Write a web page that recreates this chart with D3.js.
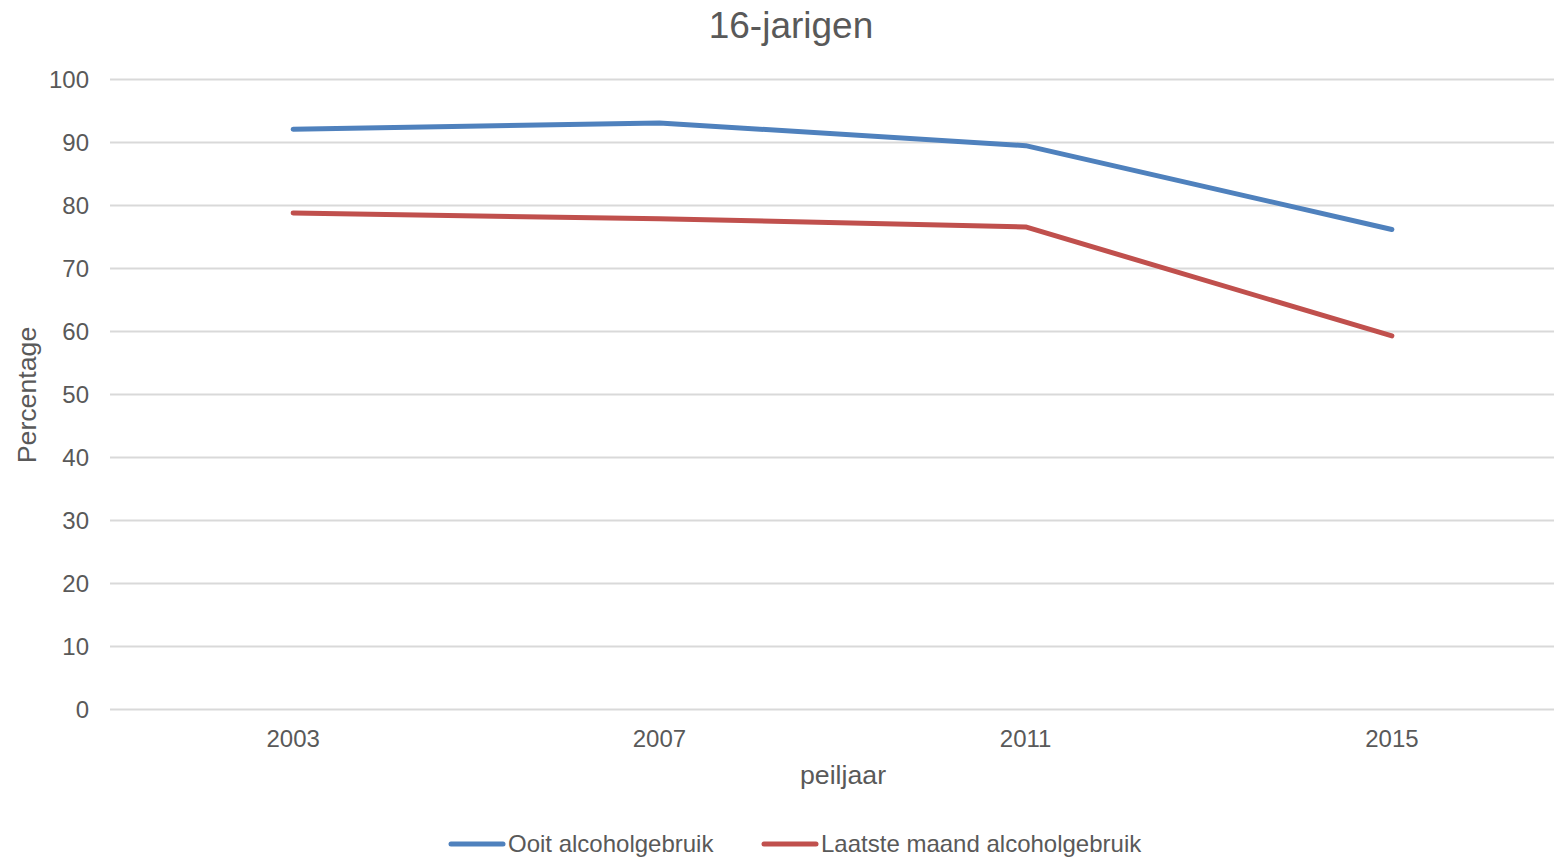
<!DOCTYPE html>
<html>
<head>
<meta charset="utf-8">
<script src="https://cdn.jsdelivr.net/npm/d3@7"></script>
<style>
  html, body { margin: 0; padding: 0; background: #fff; overflow: hidden; }
  svg { display: block; font-family: "Liberation Sans", Arial, sans-serif; }
</style>
</head>
<body>
<svg id="chart" width="1554" height="859"></svg>
<script>
const categories = ["2003", "2007", "2011", "2015"];
const seriesNames = ["Ooit alcoholgebruik", "Laatste maand alcoholgebruik"];
const ooitValues = [92.1, 93.1, 89.5, 76.2];
const laatsteValues = [78.8, 77.9, 76.6, 59.3];
const yTicks = [0, 10, 20, 30, 40, 50, 60, 70, 80, 90, 100];
const colors = ["#4F81BD", "#C0504D"];

const svg = d3.select("#chart");
const plotLeft = 110, plotRight = 1575, plotTop = 79.5, plotBottom = 709.5;
const textColor = "#595959";

const x = d3.scaleBand().domain(categories).range([plotLeft, plotRight]);
const y = d3.scaleLinear().domain([0, 100]).range([plotBottom, plotTop]);

// Title
svg.append("text").attr("x", 791).attr("y", 38).attr("text-anchor", "middle")
  .attr("font-size", 37).attr("fill", textColor).text("16-jarigen");

// Gridlines
svg.append("g").selectAll("line").data(yTicks).join("line")
  .attr("x1", plotLeft).attr("x2", plotRight)
  .attr("y1", d => y(d)).attr("y2", d => y(d))
  .attr("stroke", "#d9d9d9").attr("stroke-width", 2);

// Y axis labels
const yAxis = d3.axisLeft(y).tickValues(yTicks).tickSize(0).tickPadding(21);
const gy = svg.append("g").attr("transform", `translate(${plotLeft},0)`).call(yAxis);
gy.select(".domain").remove();
gy.selectAll("text").attr("font-size", 24).attr("fill", textColor)
  .attr("font-family", "Liberation Sans, Arial, sans-serif");

// X axis labels
const xAxis = d3.axisBottom(x).tickSize(0).tickPadding(20);
const gx = svg.append("g").attr("transform", `translate(0,${plotBottom})`).call(xAxis);
gx.select(".domain").remove();
gx.selectAll("text").attr("font-size", 24).attr("fill", textColor)
  .attr("font-family", "Liberation Sans, Arial, sans-serif");

// Axis titles
svg.append("text").attr("x", 843).attr("y", 784).attr("text-anchor", "middle")
  .attr("font-size", 26.7).attr("fill", textColor).text("peiljaar");
svg.append("text").attr("transform", "translate(36,395) rotate(-90)")
  .attr("text-anchor", "middle").attr("font-size", 26.7).attr("fill", textColor).text("Percentage");

// Lines
const series = [ooitValues, laatsteValues];
const line = d3.line()
  .x((d, i) => x(categories[i]) + x.bandwidth() / 2)
  .y(d => y(d));
svg.append("g").selectAll("path").data(series).join("path")
  .attr("d", d => line(d))
  .attr("fill", "none")
  .attr("stroke", (d, i) => colors[i])
  .attr("stroke-width", 5)
  .attr("stroke-linecap", "round")
  .attr("stroke-linejoin", "round");

// Legend
const legendItems = [{ x: 451, name: seriesNames[0], c: colors[0] }, { x: 764, name: seriesNames[1], c: colors[1] }];
const lg = svg.append("g");
legendItems.forEach(it => {
  lg.append("line").attr("x1", it.x).attr("x2", it.x + 52).attr("y1", 844).attr("y2", 844)
    .attr("stroke", it.c).attr("stroke-width", 5).attr("stroke-linecap", "round");
  lg.append("text").attr("x", it.x + 57).attr("y", 852).attr("font-size", 24)
    .attr("fill", textColor).text(it.name);
});
</script>
</body>
</html>
